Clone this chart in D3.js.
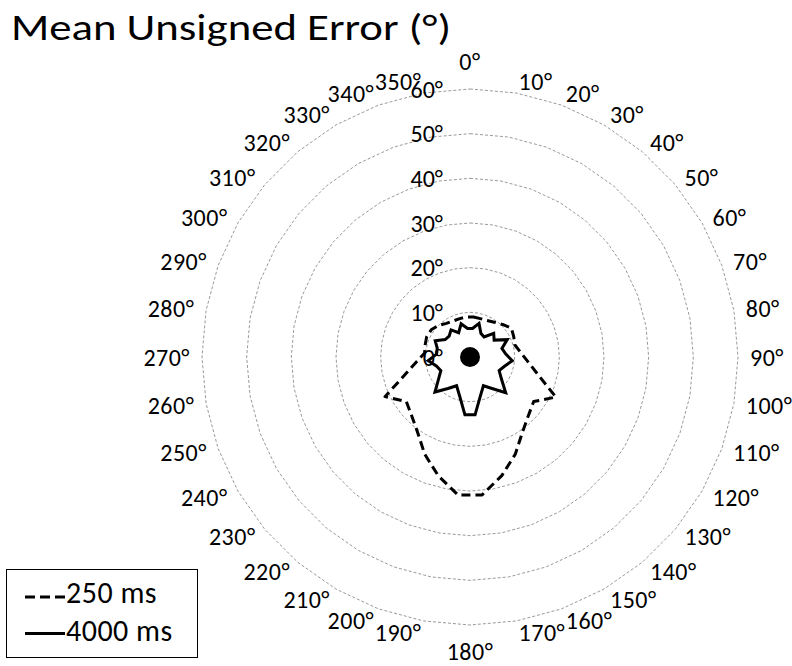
<!DOCTYPE html>
<html><head><meta charset="utf-8">
<script src="https://cdn.jsdelivr.net/npm/d3@7"></script>
<style>
body{margin:0;background:#fff}
svg{display:block}
text{font-family:Calibri, Carlito, Lato, sans-serif;fill:#000}
</style>
</head><body>
<svg id="chart" width="792" height="666"></svg>
<script>
// ---- data ----
const axisAngles = [0,10,20,30,40,50,60,70,80,90,100,110,120,130,140,150,160,170,180,190,200,210,220,230,240,250,260,270,280,290,300,310,320,330,340,350];
const axisLabels = ["0°","10°","20°","30°","40°","50°","60°","70°","80°","90°","100°","110°","120°","130°","140°","150°","160°","170°","180°","190°","200°","210°","220°","230°","240°","250°","260°","270°","280°","290°","300°","310°","320°","330°","340°","350°"];
const pointAngles = [5,15,25,35,45,55,65,75,85,95,105,115,125,135,145,155,165,175,185,195,205,215,225,235,245,255,265,275,285,295,305,315,325,335,345,355];
const ms250 = [9.0,8.9,9.0,9.5,10.3,11.3,10.8,10.4,11.4,13.1,15.9,21.2,17.4,18.5,20.5,24.0,27.5,31.0,31.0,27.5,24.0,20.5,18.5,17.4,21.0,15.0,12.0,10.2,10.4,10.7,10.6,10.0,9.2,8.9,8.9,9.0];
const ms4000 = [6.4,7.8,5.8,5.5,7.5,6.6,9.2,7.4,8.0,9.5,8.0,7.2,8.6,11.3,8.6,7.1,9.0,13.0,13.0,9.0,7.1,8.6,11.1,8.6,7.2,7.8,9.4,7.5,7.6,8.6,6.8,6.6,7.4,6.0,7.7,6.4];
const radialTicks = [0,10,20,30,40,50,60];
const radialTickLabels = ["0°","10°","20°","30°","40°","50°","60°"];
const seriesNames = ["250 ms","4000 ms"];
const titleText = "Mean Unsigned Error (°)";

// ---- layout ----
const W = 792, H = 666;
const cx = 470, cy = 357, R = 268;
const svg = d3.select("#chart");
svg.append("rect").attr("width",W).attr("height",H).attr("fill","#fff");

const r = d3.scaleLinear().domain([0,60]).range([0,R]);
const ang = d3.scaleLinear().domain([0,360]).range([0,2*Math.PI]);

const g = svg.append("g").attr("transform",`translate(${cx},${cy})`);

// grid polygons
const gridLine = d3.lineRadial().curve(d3.curveLinearClosed);
radialTicks.filter(v=>v>0).forEach(v=>{
  g.append("path")
    .attr("d", gridLine(axisAngles.map(a=>[ang(a), r(v)])))
    .attr("fill","none").attr("stroke","#9a9a9a").attr("stroke-width",1)
    .attr("stroke-dasharray","3,2");
});

// series
const line = d3.lineRadial().curve(d3.curveLinearClosed);
g.append("path")
  .attr("d", line(pointAngles.map((a,i)=>[ang(a), r(ms250[i])])))
  .attr("fill","none").attr("stroke","#000").attr("stroke-width",3)
  .attr("stroke-dasharray","9,5").attr("stroke-linejoin","round");
g.append("path")
  .attr("d", line(pointAngles.map((a,i)=>[ang(a), r(ms4000[i])])))
  .attr("fill","none").attr("stroke","#000").attr("stroke-width",3)
  .attr("stroke-linejoin","miter");

// center dot
g.append("circle").attr("r",10).attr("fill","#000");

// radial tick labels
g.selectAll("text.rt").data(radialTicks).enter().append("text")
  .attr("class","rt")
  .attr("x",-27).attr("y",d=>-r(d))
  .attr("text-anchor","end").attr("dominant-baseline","central")
  .attr("font-size",24)
  .text((d,i)=>radialTickLabels[i]);

// angular labels
const R0 = 280;
g.selectAll("text.al").data(axisAngles).enter().append("text")
  .attr("class","al")
  .attr("x",d=>R0*Math.sin(ang(d)))
  .attr("y",d=>{
    if(d===0) return -R0-7;
    if(d===180) return R0+23;
    return -R0*Math.cos(ang(d));
  })
  .attr("text-anchor",d=> (d===0||d===180)?"middle":(d<180?"start":"end"))
  .attr("dominant-baseline",d=> (d===0||d===180)?"auto":"central")
  .attr("font-size",24).attr("letter-spacing",0.5)
  .text((d,i)=>axisLabels[i]);

// title
svg.append("text").attr("x",11).attr("y",39.5)
  .attr("font-size",37)
  .attr("textLength",440).attr("lengthAdjust","spacingAndGlyphs")
  .text(titleText);

// legend
const lg = svg.append("g");
lg.append("rect").attr("x",6.5).attr("y",569.5).attr("width",191).attr("height",88)
  .attr("fill","#fff").attr("stroke","#000").attr("stroke-width",1);
const legY = [597, 633.5];
const legDash = ["10,5", null];
seriesNames.forEach((name,i)=>{
  lg.append("line").attr("x1",25).attr("x2",65).attr("y1",legY[i]).attr("y2",legY[i])
    .attr("stroke","#000").attr("stroke-width",3)
    .attr("stroke-dasharray",legDash[i]);
  lg.append("text").attr("x",66).attr("y",legY[i]+5.5+(i?1.5:0))
    .attr("font-size",30).attr("letter-spacing",0.5).text(name);
});
</script>
</body></html>
